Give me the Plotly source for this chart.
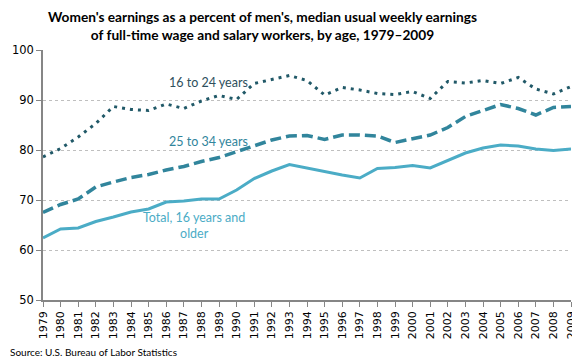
import plotly.graph_objects as go

years = list(range(1979, 2010))
total = [62.4, 64.2, 64.4, 65.7, 66.6, 67.6, 68.2, 69.6, 69.8, 70.2, 70.2, 72.0, 74.3, 75.8, 77.1,
         76.4, 75.6, 75.0, 74.4, 76.3, 76.5, 76.9, 76.4, 77.9, 79.4, 80.4, 81.0, 80.8, 80.2, 79.9, 80.2]
age_16_24 = [78.6, 80.3, 82.6, 85.3, 88.7, 88.1, 87.9, 89.2, 88.3, 89.8, 90.9, 90.1, 93.3, 94.1, 94.9,
             93.9, 91.0, 92.5, 92.0, 91.3, 91.1, 91.7, 90.3, 93.7, 93.4, 93.9, 93.3, 94.5, 92.2, 91.2, 92.7]
age_25_34 = [67.5, 69.1, 70.2, 72.6, 73.6, 74.5, 75.1, 76.0, 76.7, 77.7, 78.5, 79.7, 80.8, 82.0, 82.8,
             82.9, 82.1, 83.0, 83.0, 82.8, 81.5, 82.3, 83.0, 84.5, 86.7, 87.9, 89.1, 88.3, 87.0, 88.5, 88.7]
y_ticks = [50, 60, 70, 80, 90, 100]

c_total = "#4BACC6"
c_2534 = "#31859C"
c_1624 = "#215968"

fig = go.Figure()
fig.add_trace(go.Scatter(x=years, y=total, mode="lines", line=dict(color=c_total, width=3), hoverinfo="skip"))
fig.add_trace(go.Scatter(x=years, y=age_25_34, mode="lines", line=dict(color=c_2534, width=3.5, dash="11px,5px"), hoverinfo="skip"))
fig.add_trace(go.Scatter(x=years, y=age_16_24, mode="lines", line=dict(color=c_1624, width=3, dash="3px,5px"), hoverinfo="skip"))

lab_font = "Lato, 'Noto Sans', sans-serif"
fig.add_annotation(x=1988.4, y=93.6, text="16 to 24 years", showarrow=False,
                   font=dict(family=lab_font, size=12.5, color="#2E4F5C"))
fig.add_annotation(x=1988.4, y=81.8, text="25 to 34 years", showarrow=False,
                   font=dict(family=lab_font, size=12.5, color=c_2534))
fig.add_annotation(x=1987.6, y=65.0, text="Total, 16 years and<br>older", showarrow=False,
                   font=dict(family=lab_font, size=12.5, color=c_total), align="center")
fig.add_annotation(xref="paper", yref="paper", x=-0.0663, y=-0.208, xanchor="left", yanchor="middle",
                   text="Source: U.S. Bureau of Labor Statistics", showarrow=False,
                   font=dict(family=lab_font, size=10, color="#000000"))
fig.add_annotation(xref="paper", yref="paper", x=0.4148, y=1.098, xanchor="center", yanchor="middle",
                   text="<b>Women's earnings as a percent of men's, median usual weekly earnings<br>of full-time wage and salary workers, by age, 1979\u20132009</b>",
                   showarrow=False, align="center",
                   font=dict(family=lab_font, size=13.7, color="#000000"))

fig.update_layout(
    width=572, height=352,
    margin=dict(l=35, r=9, t=42, b=60, autoexpand=False),
    paper_bgcolor="white", plot_bgcolor="white",
    showlegend=False,
)
fig.update_xaxes(range=[1979, 2009], tickvals=years, ticktext=[str(y) for y in years],
                 tickangle=-90, ticks="outside", ticklen=5, tickcolor="#868686",
                 showline=True, linecolor="#868686", linewidth=1.5, showgrid=False, zeroline=False,
                 tickfont=dict(family="'DejaVu Sans', Verdana, sans-serif", size=11, color="#000000"))
fig.update_yaxes(range=[50, 100], tickvals=y_ticks, ticks="outside", ticklen=5, tickcolor="#868686",
                 showline=True, linecolor="#868686", linewidth=1.5, zeroline=False,
                 showgrid=True, gridcolor="#BFBFBF", griddash="dot", gridwidth=1,
                 tickfont=dict(family="'DejaVu Sans', Verdana, sans-serif", size=11.5, color="#000000"))

fig.write_html("out.html")
